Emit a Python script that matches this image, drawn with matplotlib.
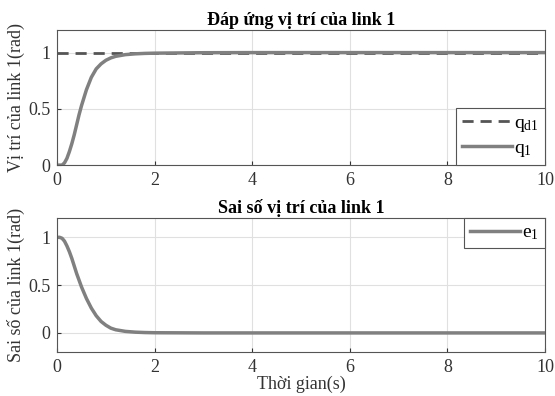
import numpy as np
import matplotlib
matplotlib.use("Agg")
import matplotlib.pyplot as plt

plt.rcParams['font.family'] = ['Liberation Serif', 'DejaVu Serif']
plt.rcParams['mathtext.fontset'] = 'custom'
plt.rcParams['mathtext.rm'] = 'Liberation Serif'

# values
t = [0, 0.05, 0.1, 0.15, 0.2, 0.25, 0.3, 0.35, 0.4, 0.45, 0.5, 0.6, 0.7, 0.8, 0.9,
     1.0, 1.1, 1.2, 1.4, 1.6, 1.8, 2.0, 2.5, 3.0, 4.0, 6.0, 8.0, 10.0]
q_d1 = [1.0] * len(t)
q_1 = [0, 0, 0.0, 0.02, 0.06, 0.12, 0.19, 0.27, 0.36, 0.45, 0.53, 0.67, 0.78, 0.855, 0.9,
       0.932, 0.953, 0.967, 0.982, 0.989, 0.993, 0.995, 0.997, 0.999, 1.0, 1.0, 1.0, 1.0]
e_1 = [1.0, 1.0, 0.99, 0.96, 0.91, 0.85, 0.78, 0.7, 0.62, 0.55, 0.48, 0.36, 0.26, 0.18, 0.12,
       0.08, 0.05, 0.033, 0.016, 0.008, 0.004, 0.002, 0.001, 0.0, 0.0, 0.0, 0.0, 0.0]
xticks = [0, 2, 4, 6, 8, 10]

fig = plt.figure(figsize=(5.55, 3.96), dpi=100)
ax1 = fig.add_axes([0.103, 0.583, 0.879, 0.341])
ax2 = fig.add_axes([0.103, 0.111, 0.879, 0.338])

line_col = '#808080'
for ax in (ax1, ax2):
    ax.set_xlim(0, 10)
    ax.set_xticks(xticks)
    ax.grid(True, color='#e0e0e0', linewidth=0.8)
    ax.set_axisbelow(True)
    ax.tick_params(direction='in', labelsize=13, colors='#333333', length=3, pad=5)
    for s in ax.spines.values():
        s.set_color('#555555')
        s.set_linewidth(0.8)

ax1.plot(t, q_d1, '--', color='#555555', linewidth=2, dashes=(4, 2.5), label=r'$\mathregular{q_{d1}}$')
ax1.plot(t, q_1, color=line_col, linewidth=2.5, label=r'$\mathregular{q_1}$')
ax1.set_ylim(0, 1.2)
ax1.set_yticks([0, 0.5, 1])
ax1.set_yticklabels(['0', '0.5', '1'])
ax1.set_title('Đáp ứng vị trí của link 1', fontsize=13, fontweight='bold', pad=4)
ax1.set_ylabel('Vị trí của link 1(rad)', fontsize=13, color='#333333', labelpad=2)
leg1 = ax1.legend(loc='lower right', fontsize=14, handlelength=2.6, borderaxespad=0,
                  fancybox=False, framealpha=1, edgecolor='#555555', handletextpad=0.1,
                  borderpad=0.3, labelspacing=0.3)
leg1.get_frame().set_linewidth(0.8)

ax2.plot(t, e_1, color=line_col, linewidth=2.5, label=r'$\mathregular{e_1}$')
ax2.set_ylim(-0.2, 1.2)
ax2.set_yticks([0, 0.5, 1])
ax2.set_yticklabels(['0', '0.5', '1'])
ax2.set_title('Sai số vị trí của link 1', fontsize=13, fontweight='bold', pad=4)
ax2.set_ylabel('Sai số của link 1(rad)', fontsize=13, color='#333333', labelpad=2)
ax2.set_xlabel('Thời gian(s)', fontsize=13, color='#333333', labelpad=0)
leg2 = ax2.legend(loc='upper right', fontsize=14, handlelength=2.6, borderaxespad=0,
                  fancybox=False, framealpha=1, edgecolor='#555555', handletextpad=0.1,
                  borderpad=0.3)
leg2.get_frame().set_linewidth(0.8)

fig.savefig('out.png', dpi=100)
